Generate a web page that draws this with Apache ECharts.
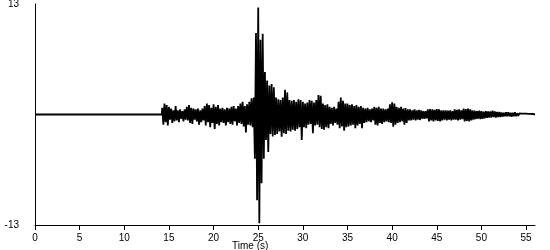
<!DOCTYPE html>
<html>
<head>
<meta charset="utf-8">
<script src="https://cdn.jsdelivr.net/npm/echarts@6/dist/echarts.min.js"></script>
<style>
html,body{margin:0;padding:0;background:#fff;}
#chart{width:550px;height:250px;}
</style>
</head>
<body>
<div id="chart"></div>
<script>
// Quiet record before the first arrival (s)
const quietTimes = [0, 14.2];
// Acceleration samples (cm/s/s), starting at t0 with step dt
const t0 = 14.25;
const dt = 0.125;
const accel = [
  // 14.25 - 14.875
  0.8,-1.2,1.3,-0.9,1.1,-1.3,
  // 15
  0.9,-0.6,0.7,-1.0,0.5,-0.8,1.0,-0.7,
  // 16
  0.5,-0.9,0.6,-0.5,0.4,-0.8,0.6,-0.6,
  // 17
  0.9,-0.7,1.1,-1.0,0.8,-1.1,0.7,-0.6,
  // 18
  0.6,-0.8,0.7,-1.2,0.5,-0.9,0.7,-0.7,
  // 19
  1.0,-1.3,1.3,-0.9,1.1,-1.5,0.8,-1.0,
  // 20
  1.2,-1.7,0.9,-1.1,1.1,-1.3,0.7,-0.9,
  // 21
  0.8,-1.0,0.6,-1.3,0.8,-0.9,0.7,-1.1,
  // 22
  0.9,-1.2,1.0,-0.8,0.7,-1.3,1.0,-1.0,
  // 23
  1.3,-1.1,1.5,-1.4,1.0,-2.1,1.2,-1.2,
  // 24
  1.5,-1.3,1.9,-1.5,2.0,-5.2,9.6,-10.1,
  // 25
  12.6,-12.8,8.8,-8.1,9.5,-5.2,5.0,-3.0,
  // 26
  4.0,-4.4,3.4,-2.3,3.6,-2.6,3.2,-2.4,
  // 27
  2.0,-2.3,1.8,-2.0,1.7,-2.6,2.0,-2.2,
  // 28
  2.9,-2.3,2.6,-1.9,1.7,-2.0,1.6,-1.8,
  // 29
  1.7,-1.9,1.5,-1.7,1.8,-1.5,1.7,-3.0,
  // 30
  1.5,-1.5,1.3,-1.6,1.4,-1.2,1.7,-1.1,
  // 31
  1.6,-2.2,1.4,-1.3,1.7,-1.2,2.3,-1.5,
  // 32
  2.2,-1.7,1.3,-1.8,1.1,-1.5,1.2,-1.6,
  // 33
  0.9,-1.1,0.8,-1.3,0.9,-1.0,0.7,-1.2,
  // 34
  1.5,-1.6,2.0,-1.4,1.6,-1.9,1.3,-1.5,
  // 35
  1.3,-1.4,1.1,-1.3,1.2,-1.2,1.0,-1.6,
  // 36
  1.1,-1.3,0.9,-1.1,1.0,-1.6,0.8,-1.0,
  // 37
  0.7,-0.9,0.8,-0.8,0.6,-0.9,0.7,-0.7,
  // 38
  0.9,-1.2,0.8,-1.3,0.9,-1.0,0.7,-1.1,
  // 39
  0.7,-0.9,0.6,-0.8,0.7,-0.9,1.2,-1.0,
  // 40
  1.45,-1.45,1.3,-1.2,0.9,-1.0,0.8,-0.9,
  // 41
  0.9,-0.8,0.7,-1.2,0.75,-1.0,0.6,-0.7,
  // 42
  0.6,-0.7,0.5,-0.6,0.6,-0.7,0.5,-0.6,
  // 43
  0.55,-0.65,0.5,-0.5,0.4,-0.5,0.4,-0.45,
  // 44
  0.6,-0.8,0.65,-0.7,0.6,-0.8,0.55,-0.7,
  // 45
  0.65,-0.75,0.6,-0.8,0.5,-0.7,0.5,-0.6,
  // 46
  0.5,-0.7,0.45,-0.6,0.5,-0.7,0.4,-0.6,
  // 47
  0.6,-0.6,0.55,-0.7,0.6,-0.6,0.5,-0.55,
  // 48
  0.7,-0.8,0.65,-0.75,0.7,-0.8,0.6,-0.7,
  // 49
  0.5,-0.6,0.45,-0.55,0.4,-0.5,0.45,-0.55,
  // 50
  0.4,-0.5,0.35,-0.45,0.4,-0.4,0.35,-0.35,
  // 51
  0.35,-0.35,0.45,-0.3,0.35,-0.35,0.3,-0.3,
  // 52
  0.3,-0.3,0.25,-0.25,0.2,-0.2,0.25,-0.2,
  // 53
  0.25,-0.2,0.2,-0.25,0.2,-0.2,0.25,-0.2,
  // 54
  0.15,-0.15,0.12,-0.1,0.1,-0.12,0.1,-0.1,
  // 55
  0.1,-0.1,0.08,-0.1,0.08,-0.08,0.06,-0.05,
  // 56
  0
];
const xTicks = [0,5,10,15,20,25,30,35,40,45,50,55];
const yTicks = [-13, 13];
const xTitle = 'Time (s)';
const yTitle = 'cm/s/s';

const data = quietTimes.map(t => [t, 0]);
accel.forEach((v, i) => data.push([t0 + i * dt, v]));

const font = 'Liberation Sans, Arial, sans-serif';
const chart = echarts.init(document.getElementById('chart'), null, {renderer: 'canvas'});
chart.setOption({
  animation: false,
  backgroundColor: '#ffffff',
  grid: {left: 35, right: 15, top: 4, bottom: 25, containLabel: false, outerBoundsMode: 'none'},
  xAxis: {
    type: 'value', min: 0, max: 56,
    splitLine: {show: false},
    axisLine: {show: true, onZero: false, lineStyle: {color: '#000', width: 1}},
    axisTick: {show: true, inside: false, length: 5, lineStyle: {color: '#000'}, customValues: xTicks},
    axisLabel: {color: '#000', fontSize: 10, fontFamily: font, margin: 8, customValues: xTicks}
  },
  yAxis: {
    type: 'value', min: -13, max: 13,
    name: yTitle, nameLocation: 'middle', nameGap: 18,
    nameTextStyle: {color: '#000', fontSize: 10, fontFamily: font},
    splitLine: {show: false},
    axisLine: {show: true, onZero: false, lineStyle: {color: '#000', width: 1}},
    axisTick: {show: false},
    axisLabel: {color: '#000', fontSize: 10, fontFamily: font, margin: 16, customValues: yTicks}
  },
  graphic: [{
    type: 'text', left: 232, top: 241,
    style: {text: xTitle, fill: '#000', font: '10px ' + font}
  }],
  series: [{
    type: 'line', data: data, showSymbol: false, symbol: 'none',
    sampling: null,
    lineStyle: {color: '#000', width: 1.8},
    silent: true
  }]
});
</script>
</body>
</html>
